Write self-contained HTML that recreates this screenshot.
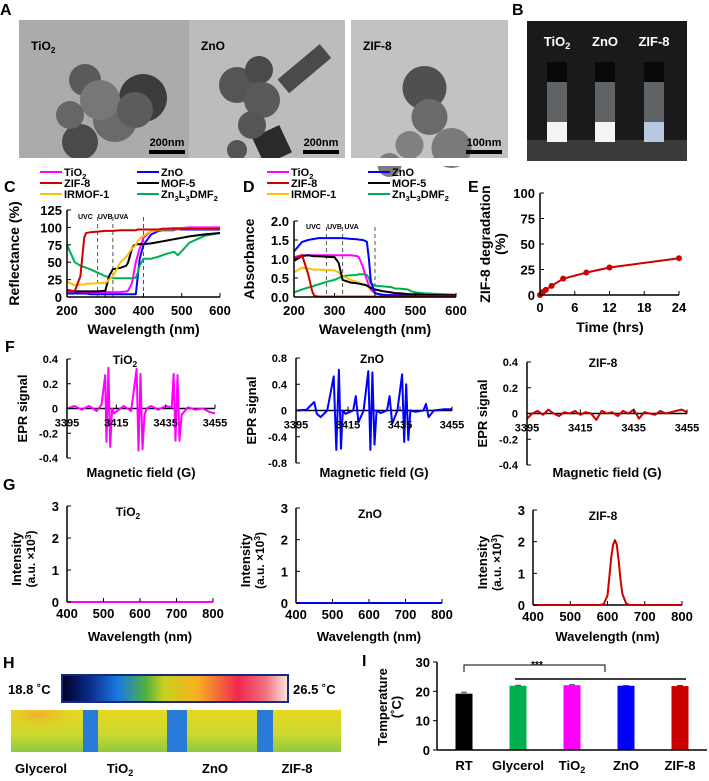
<!DOCTYPE html>
<html><head><meta charset="utf-8"><style>
html,body{margin:0;padding:0;background:#fff;}
svg{display:block;font-family:"Liberation Sans",Arial,sans-serif;font-weight:bold;}
</style></head><body>
<svg id="fig" width="709" height="781" viewBox="0 0 709 781" xmlns="http://www.w3.org/2000/svg">
<defs>
<linearGradient id="cbar" x1="0" x2="1" y1="0" y2="0">
<stop offset="0" stop-color="#000028"/><stop offset="0.12" stop-color="#0a2a8a"/><stop offset="0.25" stop-color="#1a7ae0"/><stop offset="0.37" stop-color="#50b040"/><stop offset="0.45" stop-color="#c8d020"/><stop offset="0.6" stop-color="#f8b020"/><stop offset="0.78" stop-color="#f02850"/><stop offset="0.9" stop-color="#f07080"/><stop offset="1" stop-color="#fbe8e0"/>
</linearGradient>
<linearGradient id="therm" x1="0" x2="0" y1="0" y2="1">
<stop offset="0" stop-color="#e8d820"/><stop offset="0.6" stop-color="#c8d830"/><stop offset="1" stop-color="#90c840"/>
</linearGradient>
<radialGradient id="glyc" cx="0.4" cy="0.2" r="0.6"><stop offset="0" stop-color="#f0b030"/><stop offset="1" stop-color="#e0d020" stop-opacity="0"/></radialGradient>
</defs>
<g id="root"></g>
</svg>
<script>
// ---------- data ----------
const cWl = [200,220,235,245,250,260,280,300,310,320,340,355,360,370,375,380,385,390,400,420,440,450,460,480,490,500,520,560,600];
const cTiO2 = [8,8,7,7,7,7,7,7,7,7,7,8,9,20,35,50,60,70,85,95,97,98,98,99,99,99,100,100,100];
const cZnO = [5,5,5,5,5,4,4,4,4,4,4,4,4,4,4,4,30,55,75,90,95,96,96,96,97,97,97,97,97];
const cZIF8 = [10,8,30,85,92,93,94,95,95,95,96,96,96,96,96,96,97,97,97,97,97,98,98,98,98,98,98,98,98];
const cMOF5 = [10,8,8,8,8,8,8,9,30,40,42,45,50,70,74,75,76,76,76,77,79,80,81,83,84,85,87,90,92];
const cIRMOF = [22,17,18,18,19,19,20,20,25,30,50,58,62,70,72,75,80,84,88,95,96,97,97,97,97,98,98,98,98];
const cZn3 = [75,50,45,43,42,40,35,30,28,27,27,27,27,27,27,28,35,45,55,55,58,60,62,65,60,66,78,88,92];

const dTiO2 = [1.05,1.1,1.1,1.1,1.1,1.1,1.1,1.1,1.1,1.1,1.1,1.08,1.05,0.8,0.6,0.45,0.3,0.2,0.1,0.06,0.05,0.05,0.05,0.05,0.05,0.05,0.05,0.05,0.05];
const dZnO = [1.2,1.45,1.5,1.52,1.53,1.55,1.55,1.55,1.55,1.55,1.53,1.52,1.51,1.5,1.48,1.45,1.0,0.4,0.1,0.05,0.05,0.04,0.04,0.03,0.03,0.03,0.03,0.02,0.02];
const dZIF8 = [1.0,1.1,0.6,0.15,0.03,0.01,0.01,0.01,0.01,0.01,0.01,0.01,0.01,0.01,0.01,0.01,0.01,0.01,0.01,0.01,0.01,0.01,0.01,0.01,0.01,0.01,0.01,0.01,0.01];
const dMOF5 = [0.95,1.08,1.1,1.08,1.07,1.07,1.06,1.05,0.9,0.45,0.38,0.36,0.35,0.33,0.32,0.3,0.27,0.24,0.2,0.15,0.12,0.1,0.1,0.08,0.07,0.07,0.06,0.05,0.05];
const dIRMOF = [0.65,0.77,0.75,0.73,0.72,0.72,0.71,0.7,0.65,0.55,0.45,0.4,0.38,0.33,0.32,0.3,0.25,0.18,0.1,0.06,0.05,0.05,0.04,0.04,0.03,0.03,0.03,0.02,0.02];
const dZn3 = [0.12,0.2,0.25,0.27,0.3,0.33,0.4,0.45,0.5,0.55,0.57,0.58,0.6,0.6,0.6,0.58,0.5,0.35,0.3,0.28,0.26,0.22,0.22,0.2,0.15,0.12,0.1,0.08,0.06];

const eTime = [0,0.5,1,2,4,8,12,24];
const eDeg = [0,3,5,9,16,22,27,36];

const fTiField = [3395,3398,3401,3404,3407,3409,3410.5,3411,3411.8,3412.5,3413.3,3414,3416,3418,3421,3423.2,3424,3424.8,3425.6,3426.4,3427.3,3429,3432,3435,3437.5,3438.2,3439,3439.8,3440.6,3441.5,3444,3447,3450,3453,3455];
const fTiSig = [0,0.02,-0.01,0.02,-0.02,0.03,0.27,-0.27,0.33,-0.31,0.0,-0.04,-0.01,0.02,-0.02,0.32,-0.34,0.28,-0.33,-0.05,0.0,0.02,-0.01,0.02,0.01,0.28,-0.26,0.27,-0.26,-0.05,0.01,-0.01,0.0,-0.03,-0.04];
const fZnField = [3395,3399,3402,3403,3404.5,3407,3409.5,3410.5,3411.5,3412.3,3413,3414,3417,3418,3419,3421,3422.8,3423.6,3424.4,3425.2,3426,3427.5,3430,3431,3432,3434,3435.8,3436.6,3437.4,3438.2,3439,3441,3444,3445,3446,3448,3452,3455];
const fZnSig = [0,0.01,0.13,-0.05,-0.1,0.0,0.52,-0.6,0.62,-0.58,0.0,-0.05,0.0,0.22,-0.18,0.0,0.6,-0.6,0.58,-0.52,0.0,-0.04,0.0,0.22,-0.2,0.0,0.55,-0.48,0.4,-0.45,0.0,-0.02,0.0,0.1,-0.1,0.0,0.02,0.02];
const fZifField = [3395,3397,3399,3401,3403,3405,3407,3409,3411,3413,3415,3417,3419,3421,3423,3425,3427,3429,3431,3433,3435,3437,3439,3441,3443,3445,3447,3449,3451,3453,3455];
const fZifSig = [-0.04,0.0,0.02,-0.01,0.03,0.0,-0.02,0.01,0.0,0.02,-0.01,0.01,0.0,-0.05,0.02,0.0,0.01,-0.02,0.02,0.0,0.03,-0.04,0.01,0.0,-0.01,0.02,0.0,0.01,0.02,0.03,0.01];

const gWl = [400,500,580,590,600,605,610,615,620,625,630,635,640,650,660,700,800];
const gTiO2 = [0,0,0,0,0,0,0,0,0,0,0,0,0,0,0,0,0];
const gZnO = [0,0,0,0,0,0,0,0,0,0,0,0,0,0,0,0,0];
const gZIF8 = [0,0,0,0.03,0.3,0.9,1.5,1.9,2.05,1.9,1.4,0.8,0.35,0.05,0,0,0];

const iCats = ["RT","Glycerol","TiO2","ZnO","ZIF-8"];
const iVals = [19.2,21.9,22.1,21.9,21.8];
const iErr = [0.5,0.15,0.15,0.1,0.2];

// ---------- helpers ----------
const NS = "http://www.w3.org/2000/svg";
const root = document.getElementById("root");
function el(tag, attrs, parent, txt){
  const e = document.createElementNS(NS, tag);
  for (const k in attrs) e.setAttribute(k, attrs[k]);
  if (txt !== undefined) e.textContent = txt;
  (parent || root).appendChild(e);
  return e;
}
function lin(d0,d1,r0,r1){ return v => r0 + (v-d0)*(r1-r0)/(d1-d0); }
function txt(x,y,s,size,anchor,parent,fill,weight){
  const t = el("text",{x:x,y:y,"font-size":size,"text-anchor":anchor||"start",fill:fill||"#000","font-weight":weight||"bold"},parent);
  t.innerHTML = s;
  return t;
}
function panelLabel(x,y,s){
  const t = txt(x,y,s,16,"start");
  
  
}
function polyline(xs,ys,sx,sy,color,w,parent){
  const pts = xs.map((x,i)=> sx(x).toFixed(1)+","+sy(ys[i]).toFixed(1)).join(" ");
  return el("polyline",{points:pts,fill:"none",stroke:color,"stroke-width":w||2,"stroke-linejoin":"round"},parent);
}
const SUB = s => s.replace("TiO2","TiO<tspan font-size='0.7em' dy='3'>2</tspan>");

// ---------- Panel A ----------
(function(){
  const g = el("g",{});  
  panelLabel(0,15,"A");
  const imgs = [
    {x:19,w:172,bg:"#ababab",name:"TiO2",bar:"200nm"},
    {x:189,w:156,bg:"#bcbcbc",name:"ZnO",bar:"200nm"},
    {x:351,w:157,bg:"#c2c2c2",name:"ZIF-8",bar:"100nm"}
  ];
  imgs.forEach((im,i)=>{
    const gi = el("g",{},g);
    
    
    el("rect",{x:im.x,y:20,width:im.w,height:138,fill:im.bg},gi);
    txt(im.x+12,50,im.name==="TiO2"?SUB("TiO2"):im.name,12,"start",gi);
    const cx = im.x+im.w/2;
    if(i===0){
      [[cx-20,80,16,"#5a5a5a"],[cx+38,98,24,"#3c3c3c"],[cx+10,120,22,"#6a6a6a"],[cx-25,142,18,"#4a4a4a"],[cx-5,100,20,"#777"],[cx-35,115,14,"#666"],[cx+30,110,18,"#5c5c5c"]].forEach(c=>el("circle",{cx:c[0],cy:c[1],r:c[2],fill:c[3]},gi));
    } else if(i===1){
      el("rect",{x:cx-10,y:130,width:30,height:30,fill:"#2a2a2a",transform:`rotate(-25 ${cx+5} 145)`},gi);
      el("rect",{x:cx+10,y:60,width:55,height:18,fill:"#4a4a4a",transform:`rotate(-40 ${cx+37} 69)`},gi);
      [[cx-30,85,18,"#555"],[cx-8,70,14,"#4a4a4a"],[cx-5,100,18,"#5a5a5a"],[cx-15,125,14,"#555"],[cx-30,150,10,"#555"]].forEach(c=>el("circle",{cx:c[0],cy:c[1],r:c[2],fill:c[3]},gi));
    } else {
      [[cx-5,88,22,"#505050"],[cx,117,18,"#6a6a6a"],[cx-20,145,14,"#808080"],[cx+22,148,20,"#7a7a7a"],[cx-40,165,12,"#7d7d7d"]].forEach(c=>el("circle",{cx:c[0],cy:c[1],r:c[2],fill:c[3]},gi));
    }
    el("rect",{x:im.x+im.w-42,y:150,width:36,height:4,fill:"#000"},gi);
    txt(im.x+im.w-24,146,im.bar,11,"middle",gi);
  });
  el("rect",{x:0,y:158,width:540,height:8,fill:"#fff"},g);
  panelLabel(512,15,"B");
  const gb = el("g",{});  
  el("rect",{x:527,y:21,width:160,height:140,fill:"#1a1a1a"},gb);
  el("rect",{x:527,y:140,width:160,height:21,fill:"#3a3a3a"},gb);
  const vials = [{x:557,n:"TiO2",liq:"#f4f4f4"},{x:605,n:"ZnO",liq:"#f4f4f4"},{x:654,n:"ZIF-8",liq:"#b8c8e0"}];
  vials.forEach(v=>{
    txt(v.x,46,v.n==="TiO2"?SUB("TiO2"):v.n,13,"middle",gb,"#fff");
    el("rect",{x:v.x-10,y:62,width:20,height:20,fill:"#080808"},gb);
    el("rect",{x:v.x-10,y:82,width:20,height:60,fill:"#9aa0a4",opacity:0.55},gb);
    el("rect",{x:v.x-10,y:122,width:20,height:20,fill:v.liq},gb);
  });
})();

// ---------- Panel C & D ----------
function legendCD(x1,x2){
  const items = [["TiO2","#ff00ff",0,0],["ZnO","#0000ff",1,0],["ZIF-8","#cc0000",0,1],["MOF-5","#000",1,1],["IRMOF-1","#ffc000",0,2],["Zn<tspan font-size='0.7em' dy='3'>3</tspan><tspan dy='-3'>L</tspan><tspan font-size='0.7em' dy='3'>3</tspan><tspan dy='-3'>DMF</tspan><tspan font-size='0.7em' dy='3'>2</tspan>","#00b050",1,2]];
  items.forEach(it=>{
    const gx = it[2]?x2:x1, gy = 176+it[3]*11;
    const lg = el("g",{});
    
    
    el("line",{x1:gx,y1:gy-4,x2:gx+22,y2:gy-4,stroke:it[1],"stroke-width":2},lg);
    txt(gx+24,gy,SUB(it[0]),11,"start",lg);
  });
}
function spectraPanel(cfg){
  const g = el("g",{});
  
  
  const sx = lin(200,600,cfg.x0,cfg.x1), sy = lin(0,cfg.ymax,297,cfg.ytop);
  [280,320,400].forEach(w=>el("line",{x1:sx(w),x2:sx(w),y1:cfg.dashTop,y2:297,stroke:"#555","stroke-width":1,"stroke-dasharray":"4,3"},g));
  txt(sx(248),cfg.dashTop+2,"UVC",7,"middle",g);
  txt(sx(300),cfg.dashTop+2,"UVB",7,"middle",g);
  txt(sx(342),cfg.dashTop+2,"UVA",7,"middle",g);
  cfg.series.forEach(s=>{
    const p = polyline(cWl,s[0],sx,sy,s[1],2,g);
    
    
  });
  el("line",{x1:cfg.x0,y1:cfg.ytop,x2:cfg.x0,y2:297,stroke:"#000","stroke-width":1.5},g);
  el("line",{x1:cfg.x0,y1:297,x2:cfg.x1,y2:297,stroke:"#000","stroke-width":1.5},g);
  cfg.yticks.forEach((v,i)=>{
    el("line",{x1:cfg.x0,x2:cfg.x0+4,y1:sy(v),y2:sy(v),stroke:"#000"},g);
    txt(cfg.x0-5,sy(v)+5,cfg.ylabels[i],13,"end",g);
  });
  [200,300,400,500,600].forEach(v=>{
    el("line",{x1:sx(v),x2:sx(v),y1:297,y2:293,stroke:"#000"},g);
    txt(sx(v),315,String(v),13,"middle",g);
  });
  txt((cfg.x0+cfg.x1)/2,334,"Wavelength (nm)",14,"middle",g);
  const yt = txt(0,0,cfg.ytitle,14,"middle",g);
  yt.setAttribute("transform",`translate(${cfg.ytx},${(cfg.ytop+297)/2}) rotate(-90)`);
}
panelLabel(4,192,"C");
legendCD(40,137);
spectraPanel({name:"panel-c-reflectance-chart",x0:67,x1:220,ytop:210,ymax:125,dashTop:217,
  yticks:[0,25,50,75,100,125],ylabels:["0","25","50","75","100","125"],ytitle:"Reflectance (%)",ytx:19,
  series:[[cZnO,"#0000ff","zno"],[cTiO2,"#ff00ff","tio2"],[cZn3,"#00b050","zn3l3dmf2"],[cMOF5,"#000","mof5"],[cIRMOF,"#ffc000","irmof1"],[cZIF8,"#cc0000","zif8"]]});
panelLabel(243,192,"D");
legendCD(267,368);
spectraPanel({name:"panel-d-absorbance-chart",x0:294,x1:456,ytop:221,ymax:2.0,dashTop:227,
  yticks:[0,0.5,1,1.5,2],ylabels:["0.0","0.5","1.0","1.5","2.0"],ytitle:"Absorbance",ytx:254,
  series:[[dZn3,"#00b050","zn3l3dmf2"],[dIRMOF,"#ffc000","irmof1"],[dTiO2,"#ff00ff","tio2"],[dMOF5,"#000","mof5"],[dZnO,"#0000ff","zno"],[dZIF8,"#cc0000","zif8"]]});

// ---------- Panel E ----------
(function(){
  panelLabel(468,192,"E");
  const g = el("g",{});  
  const sx = lin(0,24,540,679), sy = lin(0,100,295,193);
  const p = polyline(eTime,eDeg,sx,sy,"#cc0000",2,g);
   
  eTime.forEach((t,i)=>{
    const c = el("circle",{cx:sx(t),cy:sy(eDeg[i]),r:3,fill:"#cc0000"},g);
    
    
  });
  el("line",{x1:540,y1:193,x2:540,y2:295,stroke:"#000","stroke-width":1.5},g);
  el("line",{x1:540,y1:295,x2:679,y2:295,stroke:"#000","stroke-width":1.5},g);
  [0,25,50,75,100].forEach(v=>{el("line",{x1:540,x2:544,y1:sy(v),y2:sy(v),stroke:"#000"},g);txt(535,sy(v)+5,String(v),13,"end",g);});
  [0,6,12,18,24].forEach(v=>{el("line",{x1:sx(v),x2:sx(v),y1:295,y2:291,stroke:"#000"},g);txt(sx(v),312,String(v),13,"middle",g);});
  txt(610,332,"Time (hrs)",14,"middle",g);
  const t1 = txt(0,0,"ZIF-8 degradation",14,"middle",g); t1.setAttribute("transform","translate(490,244) rotate(-90)");
  const t2 = txt(0,0,"(%)",14,"middle",g); t2.setAttribute("transform","translate(505,244) rotate(-90)");
})();

// ---------- Panel F ----------
function eprPanel(c){
  const g = el("g",{});  
  const sx = lin(3395,3455,c.x0,c.x1), sy = lin(-c.ym,c.ym,c.yb,c.yt);
  el("line",{x1:c.x0,y1:sy(0),x2:c.x1,y2:sy(0),stroke:"#000","stroke-width":1.5},g);
  const p = polyline(c.xs,c.ys,sx,sy,c.color,2,g);
   
  el("line",{x1:c.x0,y1:c.yt,x2:c.x0,y2:c.yb,stroke:"#000","stroke-width":1.5},g);
  c.ticks.forEach((v,i)=>{el("line",{x1:c.x0,x2:c.x0+4,y1:sy(v),y2:sy(v),stroke:"#000"},g);txt(c.x0-9,sy(v)+4,c.tl[i],11,"end",g);});
  [3395,3415,3435,3455].forEach(v=>{el("line",{x1:sx(v),x2:sx(v),y1:sy(0),y2:sy(0)-4,stroke:"#000"},g);txt(sx(v),sy(0)+18,String(v),11,"middle",g);});
  txt(c.tx,c.yt+5,SUB(c.title),12,"middle",g);
  txt((c.x0+c.x1)/2,477,"Magnetic field (G)",13,"middle",g);
  const yl = txt(0,0,"EPR signal",13,"middle",g); yl.setAttribute("transform",`translate(${c.x0-40},${sy(0)}) rotate(-90)`);
}
panelLabel(5,352,"F");
eprPanel({name:"panel-f-epr-tio2",x0:67,x1:215,yt:359,yb:458,ym:0.4,ticks:[0.4,0.2,0,-0.2,-0.4],tl:["0.4","0.2","0","-0.2","-0.4"],xs:fTiField,ys:fTiSig,color:"#ff00ff",title:"TiO2",tx:125});
eprPanel({name:"panel-f-epr-zno",x0:296,x1:452,yt:358,yb:463,ym:0.8,ticks:[0.8,0.4,0,-0.4,-0.8],tl:["0.8","0.4","0","-0.4","-0.8"],xs:fZnField,ys:fZnSig,color:"#0000ff",title:"ZnO",tx:372});
eprPanel({name:"panel-f-epr-zif8",x0:527,x1:687,yt:362,yb:465,ym:0.4,ticks:[0.4,0.2,0,-0.2,-0.4],tl:["0.4","0.2","0","-0.2","-0.4"],xs:fZifField,ys:fZifSig,color:"#cc0000",title:"ZIF-8",tx:603});

// ---------- Panel G ----------
function plPanel(c){
  const g = el("g",{});  
  const sx = lin(400,800,c.x0,c.x1), sy = lin(0,3,c.y0,c.y3);
  el("line",{x1:c.x0,y1:c.y3,x2:c.x0,y2:c.y0,stroke:"#000","stroke-width":1.5},g);
  el("line",{x1:c.x0,y1:c.y0,x2:c.x1,y2:c.y0,stroke:"#000","stroke-width":1.5},g);
  const p = polyline(gWl,c.ys,sx,sy,c.color,2,g);
   
  [0,1,2,3].forEach(v=>{el("line",{x1:c.x0,x2:c.x0+4,y1:sy(v),y2:sy(v),stroke:"#000"},g);txt(c.x0-8,sy(v)+5,String(v),13,"end",g);});
  [400,500,600,700,800].forEach(v=>{el("line",{x1:sx(v),x2:sx(v),y1:c.y0,y2:c.y0-4,stroke:"#000"},g);txt(sx(v),c.y0+16,String(v),13,"middle",g);});
  txt(c.tx,c.y3+10,SUB(c.title),12,"middle",g);
  txt((c.x0+c.x1)/2,641,"Wavelength (nm)",13,"middle",g);
  const a = txt(0,0,"Intensity",13,"middle",g); a.setAttribute("transform",`translate(${c.x0-46},${(c.y0+c.y3)/2+5}) rotate(-90)`);
  const b = txt(0,0,"(a.u. ×10<tspan font-size='0.7em' dy='-4'>3</tspan><tspan dy='4'>)</tspan>",12,"middle",g); b.setAttribute("transform",`translate(${c.x0-32},${(c.y0+c.y3)/2+5}) rotate(-90)`);
}
panelLabel(3,490,"G");
plPanel({name:"panel-g-pl-tio2",x0:67,x1:213,y0:602,y3:506,ys:gTiO2,color:"#ff00ff",title:"TiO2",tx:128});
plPanel({name:"panel-g-pl-zno",x0:296,x1:442,y0:603,y3:508,ys:gZnO,color:"#0000ff",title:"ZnO",tx:370});
plPanel({name:"panel-g-pl-zif8",x0:533,x1:682,y0:605,y3:510,ys:gZIF8,color:"#cc0000",title:"ZIF-8",tx:603});

// ---------- Panel H ----------
(function(){
  panelLabel(3,668,"H");
  const g = el("g",{});  
  const cb = el("rect",{x:62,y:675,width:226,height:27,fill:"url(#cbar)",stroke:"#1a2a80","stroke-width":2},g);
   
  txt(8,694,"18.8 ˚C",13,"start",g);
  txt(293,694,"26.5 ˚C",13,"start",g);
  el("rect",{x:11,y:710,width:330,height:42,fill:"url(#therm)"},g);
  el("rect",{x:11,y:710,width:70,height:25,fill:"url(#glyc)"},g);
  [[83,15],[167,20],[257,16]].forEach(s=>el("rect",{x:s[0],y:710,width:s[1],height:42,fill:"#2a7ad8"},g));
  [["Glycerol",41],["TiO2",120],["ZnO",215],["ZIF-8",297]].forEach(l=>txt(l[1],773,SUB(l[0]),13,"middle",g));
})();

// ---------- Panel I ----------
(function(){
  panelLabel(362,666,"I");
  const g = el("g",{});  
  const x0=437, x1=707, sy = lin(0,30,750,662);
  const colors = ["#000","#00b050","#ff00ff","#0000ff","#cc0000"];
  const band = (x1-x0)/iCats.length;
  const sx = i => x0 + band*(i+0.5);
  iCats.forEach((c,i)=>{
    const b = el("rect",{x:sx(i)-8.5,y:sy(iVals[i]),width:17,height:750-sy(iVals[i]),fill:colors[i]},g);
    
    
    el("line",{x1:sx(i)-3,x2:sx(i)+3,y1:sy(iVals[i]+iErr[i]),y2:sy(iVals[i]+iErr[i]),stroke:"#444"},g);
    el("line",{x1:sx(i),x2:sx(i),y1:sy(iVals[i]),y2:sy(iVals[i]+iErr[i]),stroke:"#444"},g);
    txt(sx(i),770,SUB(c),13,"middle",g);
  });
  el("line",{x1:x0,y1:662,x2:x0,y2:750,stroke:"#000","stroke-width":1.5},g);
  el("line",{x1:x0,y1:750,x2:x1,y2:750,stroke:"#000","stroke-width":1.5},g);
  [0,10,20,30].forEach(v=>{el("line",{x1:x0-4,x2:x0,y1:sy(v),y2:sy(v),stroke:"#000"},g);txt(x0-7,sy(v)+5,String(v),13,"end",g);});
  el("polyline",{points:`${sx(0)},672 ${sx(0)},665 ${sx(2)+33},665 ${sx(2)+33},672`,fill:"none",stroke:"#000"},g);
  txt(537,668,"***",10,"middle",g);
  el("line",{x1:sx(1)-3,y1:679,x2:sx(4)+6,y2:679,stroke:"#000","stroke-width":1.5},g);
  const a = txt(0,0,"Temperature",13,"middle",g); a.setAttribute("transform","translate(387,707) rotate(-90)");
  const b = txt(0,0,"(˚C)",13,"middle",g); b.setAttribute("transform","translate(401,707) rotate(-90)");
})();
</script>
</body></html>
